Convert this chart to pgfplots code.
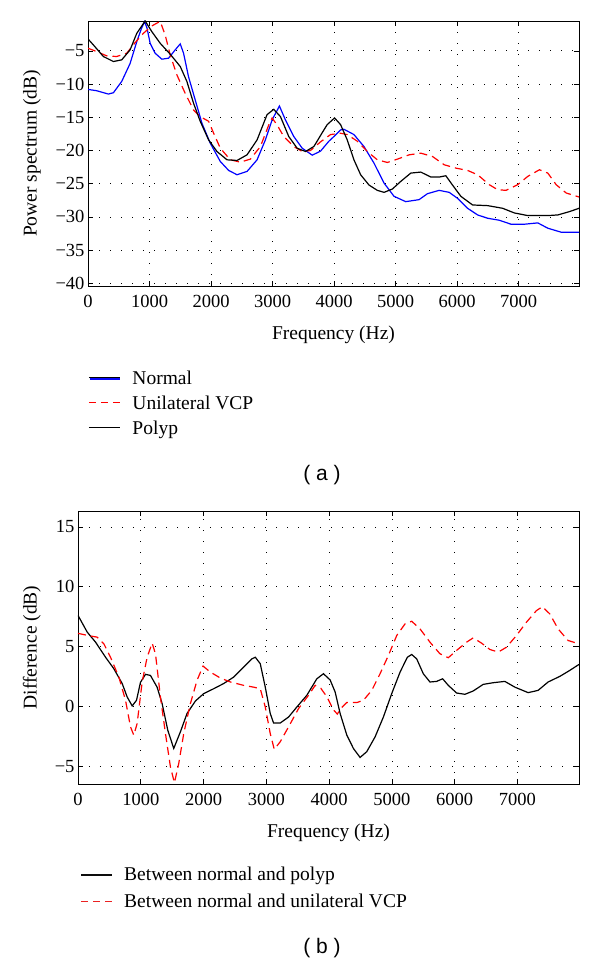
\documentclass[border=0pt]{standalone}
\usepackage{fontspec}
\setmainfont{Liberation Serif}
\newfontfamily\capfont{Liberation Sans}
\usepackage{pgfplots}
\pgfplotsset{compat=1.18}
\definecolor{legblueA}{rgb}{0.03,0.03,0.98}
\definecolor{legblackA}{rgb}{0.04,0.04,0.04}
\definecolor{legblackB}{rgb}{0.05,0.05,0.05}
\definecolor{legredB}{rgb}{0.92,0.13,0.13}

\pgfplotstableread{
f db
0 -10.8
141 -11.0
331 -11.5
413 -11.3
548 -9.6
684 -6.9
793 -3.6
870 -1.6
920 -0.6
960 -1.6
1010 -3.85
1091 -5.35
1200 -6.25
1309 -6.1
1417 -4.85
1499 -3.95
1553 -5.35
1634 -8.9
1743 -12.4
1852 -15.9
1987 -18.9
2150 -21.65
2286 -23.0
2422 -23.65
2585 -23.15
2748 -21.4
2883 -18.4
2992 -15.4
3111 -13.3
3209 -15.4
3345 -17.9
3481 -19.65
3644 -20.7
3779 -20.1
3915 -18.6
3996 -17.9
4105 -16.9
4159 -16.8
4322 -17.6
4485 -19.4
4648 -21.9
4811 -24.9
4974 -26.9
5164 -27.7
5381 -27.4
5517 -26.5
5707 -26.0
5870 -26.3
6006 -27.2
6169 -28.7
6332 -29.7
6495 -30.2
6685 -30.5
6875 -31.1
7092 -31.1
7310 -30.9
7473 -31.7
7690 -32.3
7980 -32.3
}\normaltab

\pgfplotstableread{
f db
0 -4.6
141 -5.1
304 -5.75
467 -5.85
630 -5.35
766 -3.75
901 -2.35
1037 -1.25
1173 -0.55
1254 -2.6
1336 -5.6
1444 -8.6
1580 -11.4
1716 -13.9
1824 -14.9
1960 -15.6
2042 -17.4
2150 -19.65
2313 -21.4
2476 -21.75
2639 -21.3
2802 -19.4
2938 -16.15
2992 -15.1
3073 -16.15
3182 -17.9
3345 -19.4
3481 -20.15
3616 -20.0
3779 -18.7
3942 -17.6
4105 -17.4
4213 -17.6
4377 -18.6
4540 -20.15
4702 -21.4
4865 -21.8
5028 -21.3
5219 -20.65
5409 -20.4
5599 -20.9
5789 -22.15
5979 -22.65
6169 -23.0
6332 -23.65
6522 -25.15
6658 -25.9
6793 -26.0
6983 -25.15
7147 -23.9
7337 -22.9
7473 -23.4
7609 -25.15
7772 -26.4
7980 -27.0
}\vcptab

\pgfplotstableread{
f db
0 -3.2
87 -4.1
250 -5.85
413 -6.6
548 -6.35
684 -4.85
793 -2.35
929 -0.5
1037 -2.1
1173 -3.85
1336 -5.5
1499 -7.35
1607 -9.6
1716 -12.9
1824 -15.6
1960 -18.4
2096 -20.15
2259 -21.4
2422 -21.5
2585 -20.65
2748 -18.4
2910 -14.6
3019 -13.8
3128 -14.9
3263 -17.9
3399 -19.65
3535 -20.15
3671 -19.4
3834 -16.9
3888 -16.1
4007 -15.1
4105 -16.1
4213 -18.4
4322 -21.4
4431 -23.65
4567 -25.2
4702 -26.0
4811 -26.3
4947 -25.8
5083 -24.65
5246 -23.4
5409 -23.25
5572 -24.0
5707 -24.0
5816 -23.8
5924 -25.2
6060 -26.9
6250 -28.2
6495 -28.3
6739 -28.7
6929 -29.4
7147 -29.8
7473 -29.8
7636 -29.7
7826 -29.2
7980 -28.7
}\polyptab

\pgfplotstableread{
f d
0 7.6
147 6.2
280 5.36
439 4.1
571 3.14
704 1.9
783 0.78
863 0.03
932 0.5
995 2.0
1075 2.67
1154 2.58
1260 1.6
1340 0.22
1430 -2.0
1525 -3.53
1631 -2.14
1737 -0.6
1870 0.44
2003 1.06
2162 1.47
2320 1.9
2480 2.44
2638 3.28
2771 3.97
2824 4.1
2903 3.56
2983 1.6
3062 -0.6
3115 -1.4
3221 -1.4
3354 -0.9
3486 -0.06
3645 0.92
3804 2.3
3910 2.72
4016 2.2
4096 1.19
4175 -0.6
4281 -2.4
4387 -3.53
4493 -4.28
4599 -3.8
4732 -2.56
4865 -0.89
4997 1.06
5130 2.86
5246 4.1
5315 4.33
5394 3.97
5500 2.72
5606 2.03
5712 2.08
5808 2.3
5898 1.75
6030 1.11
6163 1.0
6295 1.28
6454 1.83
6613 1.97
6799 2.08
6958 1.6
7170 1.14
7329 1.33
7488 2.03
7674 2.5
7833 3.0
7980 3.5
}\diffpolyp

\pgfplotstableread{
f d
0 6.1
174 5.9
306 5.78
412 5.22
518 4.1
651 2.44
757 0.5
836 -1.72
889 -2.42
942 -1.44
1022 2.03
1101 4.1
1181 5.28
1234 4.39
1313 0.78
1393 -2.28
1472 -5.06
1536 -6.4
1605 -4.78
1684 -2.28
1790 0.22
1896 2.17
1992 3.36
2108 2.86
2268 2.36
2427 2.03
2638 1.75
2797 1.6
2903 1.47
2983 -0.06
3062 -2.28
3126 -3.6
3221 -2.97
3354 -1.72
3513 -0.19
3672 0.92
3777 1.75
3868 1.5
3963 0.8
4069 -0.3
4130 -0.65
4200 -0.1
4281 0.31
4440 0.31
4546 0.5
4679 1.33
4811 2.72
4944 4.25
5077 5.92
5209 6.89
5315 7.11
5448 6.47
5606 5.36
5765 4.39
5898 4.06
6030 4.67
6189 5.36
6295 5.72
6428 5.28
6560 4.75
6693 4.53
6825 4.94
6984 5.92
7143 7.03
7302 8.0
7398 8.33
7515 7.72
7647 6.47
7806 5.5
7980 5.22
}\diffvcp

\newcommand{\solidkey}[1]{\textcolor{#1}{\rule[5pt]{31pt}{1.3pt}}\hspace{12pt}}
\newcommand{\dashkey}[1]{\textcolor{#1}{\rule[5pt]{7pt}{1.3pt}\hspace{5pt}\rule[5pt]{7pt}{1.3pt}\hspace{5pt}\rule[5pt]{7pt}{1.3pt}}\hspace{12pt}}

\pgfplotsset{
  mystyle/.style={
    scale only axis,
    xmin=0, xmax=7980,
    xtick={0,1000,2000,3000,4000,5000,6000,7000},
    xticklabels={0,1000,2000,3000,4000,5000,6000,7000},
    scaled ticks=false,
    tick align=inside,
    major tick length=5pt,
    tick style={black, line width=0.6pt},
    xmajorgrids, ymajorgrids,
    grid style={black, line width=0.8pt, dash pattern=on 1pt off 10pt},
    axis line style={line width=0.9pt},
    ticklabel style={font=\fontsize{18.5}{20}\selectfont},
    xticklabel style={yshift=-6pt},
    label style={font=\fontsize{19.5}{22}\selectfont},
    xlabel={Frequency (Hz)},
    xlabel style={at={(axis description cs:0.5,0)}, anchor=center, yshift=-49pt},
    legend cell align=left,
    legend style={draw=none, fill=none, inner sep=0pt, anchor=north west,
      font=\fontsize{19.5}{22}\selectfont,
      nodes={inner xsep=0pt}},
    /pgf/number format/assume math mode=true,
  }
}

\begin{document}
\begin{tikzpicture}
\useasboundingbox (0pt,0pt) rectangle (600pt,964pt);

\begin{axis}[mystyle,
  at={(88pt,678pt)}, anchor=south west,
  width=491pt, height=265pt,
  ymin=-40.4, ymax=-0.5,
  ytick={-40,-35,-30,-25,-20,-15,-10,-5},
  yticklabels={−40,−35,−30,−25,−20,−15,−10,−5},
  ylabel={Power spectrum (dB)},
  ylabel style={at={(axis description cs:-0.114,0.5)}, anchor=center},
  legend style={at={(axis description cs:0,0)}, yshift=-81pt, row sep=4pt, column sep=12pt},
]
\addplot[draw=blue, line width=1.2pt, forget plot] table[x=f, y=db] {\normaltab};
\addplot[draw=red, line width=1.2pt, dash pattern=on 8pt off 5pt, forget plot] table[x=f, y=db] {\vcptab};
\addplot[draw=black, line width=1.2pt, forget plot] table[x=f, y=db] {\polyptab};
\addlegendimage{legend image code/.code={\path (0pt,0pt) -- (31pt,0pt);}}
\addlegendentry{\llap{\solidkey{legblueA}}Normal\strut}
\addlegendimage{legend image code/.code={\draw[draw=red, line width=1.3pt, dash pattern=on 7pt off 5pt] (0pt,0pt) -- (31pt,0pt);}}
\addlegendentry{Unilateral VCP\strut}
\addlegendimage{legend image code/.code={\draw[draw=black, line width=1.3pt] (0pt,0pt) -- (31pt,0pt);}}
\addlegendentry{Polyp\strut}
\end{axis}

\begin{axis}[mystyle,
  at={(78pt,180pt)}, anchor=south west,
  width=501pt, height=273pt,
  ymin=-6.5, ymax=16.33,
  ytick={-5,0,5,10,15},
  yticklabels={−5,0,5,10,15},
  ylabel={Difference (dB)},
  ylabel style={at={(axis description cs:-0.092,0.5)}, anchor=center},
  legend style={at={(axis description cs:0,0)}, xshift=3pt, yshift=-79pt, row sep=6pt, column sep=0pt},
]
\addplot[draw=black, line width=1.2pt] table[x=f, y=d] {\diffpolyp};
\addplot[draw=red, line width=1.2pt, dash pattern=on 8pt off 5pt] table[x=f, y=d] {\diffvcp};
\legend{\solidkey{legblackB}Between normal and polyp\strut, \dashkey{legredB}Between normal and unilateral VCP\strut}
\pgfplotsset{legend image code/.code={}}
\end{axis}

\node[font=\capfont\fontsize{21}{24}\selectfont] at (322pt,489pt) {( a )};
\node[font=\capfont\fontsize{21}{24}\selectfont] at (322pt,16pt) {( b )};
\end{tikzpicture}
\end{document}
